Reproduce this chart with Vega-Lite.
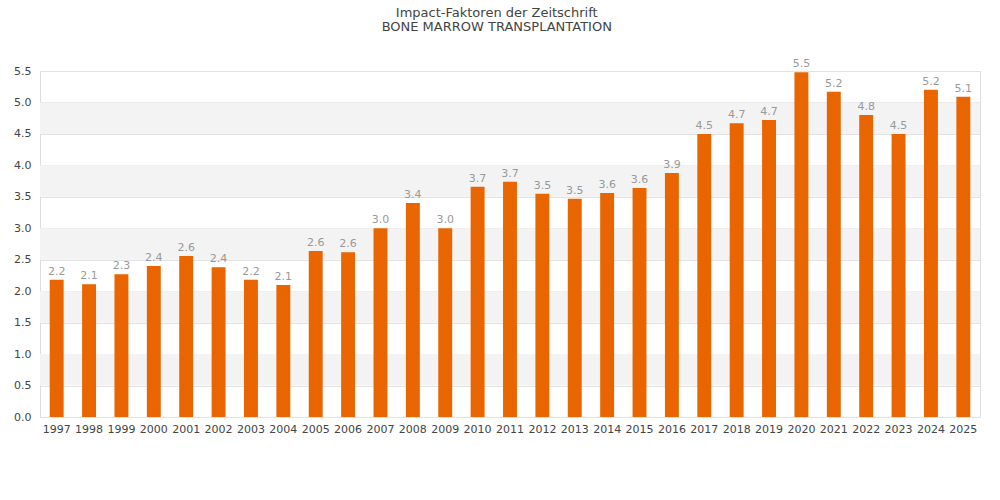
{
  "$schema": "https://vega.github.io/schema/vega-lite/v6.json",
  "description": "Impact-Faktoren Bone Marrow Transplantation",
  "autosize": "none",
  "width": 940,
  "height": 346,
  "padding": {"left": 40, "top": 71, "right": 20, "bottom": 83},
  "background": "white",
  "title": {
    "text": "Impact-Faktoren der Zeitschrift",
    "subtitle": "BONE MARROW TRANSPLANTATION",
    "font": "DejaVu Sans",
    "fontSize": 13,
    "fontWeight": "normal",
    "color": "#444444",
    "subtitleFont": "DejaVu Sans",
    "subtitleFontSize": 13,
    "subtitleColor": "#444444",
    "subtitlePadding": 1,
    "anchor": "middle",
    "frame": "bounds",
    "offset": 24
  },
  "datasets": {
    "bands": [
      {"lo": 0.5, "hi": 1.0},
      {"lo": 1.5, "hi": 2.0},
      {"lo": 2.5, "hi": 3.0},
      {"lo": 3.5, "hi": 4.0},
      {"lo": 4.5, "hi": 5.0}
    ],
    "impact": [
      {"year": "1997", "value": 2.18},
      {"year": "1998", "value": 2.11},
      {"year": "1999", "value": 2.27},
      {"year": "2000", "value": 2.40},
      {"year": "2001", "value": 2.56},
      {"year": "2002", "value": 2.38},
      {"year": "2003", "value": 2.18},
      {"year": "2004", "value": 2.10},
      {"year": "2005", "value": 2.64},
      {"year": "2006", "value": 2.62},
      {"year": "2007", "value": 3.00},
      {"year": "2008", "value": 3.40},
      {"year": "2009", "value": 3.00},
      {"year": "2010", "value": 3.66},
      {"year": "2011", "value": 3.74},
      {"year": "2012", "value": 3.55},
      {"year": "2013", "value": 3.47},
      {"year": "2014", "value": 3.56},
      {"year": "2015", "value": 3.64},
      {"year": "2016", "value": 3.88},
      {"year": "2017", "value": 4.50},
      {"year": "2018", "value": 4.67},
      {"year": "2019", "value": 4.72},
      {"year": "2020", "value": 5.48},
      {"year": "2021", "value": 5.17},
      {"year": "2022", "value": 4.80},
      {"year": "2023", "value": 4.50},
      {"year": "2024", "value": 5.20},
      {"year": "2025", "value": 5.09}
    ]
  },
  "layer": [
    {
      "data": {"name": "bands"},
      "mark": {"type": "rect", "color": "#f3f3f3"},
      "encoding": {
        "y": {
          "field": "lo",
          "type": "quantitative",
          "scale": {"domain": [0, 5.5], "nice": false},
          "axis": {
            "title": null,
            "values": [0, 0.5, 1, 1.5, 2, 2.5, 3, 3.5, 4, 4.5, 5, 5.5],
            "tickCount": 12,
            "format": ".1f",
            "labelFont": "DejaVu Sans",
            "labelFontSize": 11,
            "labelColor": "#444444",
            "labelPadding": 9,
            "labelOverlap": false,
            "labelFlush": false,
            "ticks": false,
            "domain": false,
            "grid": true,
            "gridColor": "#e2e2e2"
          }
        },
        "y2": {"field": "hi"}
      }
    },
    {
      "data": {"name": "impact"},
      "layer": [
        {
          "mark": {"type": "bar", "color": "#e86500"},
          "encoding": {
            "x": {
              "field": "year",
              "type": "ordinal",
              "scale": {"paddingInner": 0.57, "paddingOuter": 0.3},
              "axis": {
                "title": null,
                "labelAngle": 0,
                "labelFont": "DejaVu Sans",
                "labelFontSize": 11,
                "labelColor": "#444444",
                "labelPadding": 6,
                "labelOverlap": false,
                "ticks": false,
                "domain": false
              }
            },
            "y": {
              "field": "value",
              "type": "quantitative",
              "scale": {"domain": [0, 5.5], "nice": false},
              "axis": {
                "title": null,
                "values": [0, 0.5, 1, 1.5, 2, 2.5, 3, 3.5, 4, 4.5, 5, 5.5],
                "tickCount": 12,
                "format": ".1f",
                "labelOverlap": false,
                "labelFlush": false,
                "ticks": false,
                "domain": false,
                "grid": true,
                "gridColor": "#e2e2e2"
              }
            }
          }
        },
        {
          "mark": {
            "type": "text",
            "baseline": "bottom",
            "dy": -3,
            "font": "DejaVu Sans",
            "fontSize": 11,
            "color": "#999999"
          },
          "encoding": {
            "x": {"field": "year", "type": "ordinal"},
            "y": {"field": "value", "type": "quantitative"},
            "text": {"field": "value", "type": "quantitative", "format": ".1f"}
          }
        }
      ]
    }
  ],
  "config": {
    "view": {"stroke": "#dddddd"}
  }
}
